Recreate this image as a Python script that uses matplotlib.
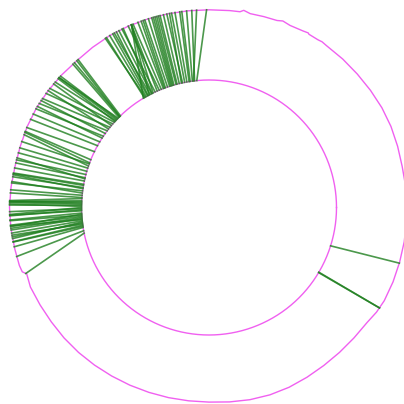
import numpy as np
import matplotlib
matplotlib.use("Agg")
import matplotlib.pyplot as plt

# inner ring radius (pixels) and outer wobbly profile, angles in degrees
inner_radius = 127.5
outer_angles = [0, 6, 12, 18, 24, 30, 36, 42, 48, 54, 55.7, 57, 60, 60.4, 62, 66, 68.4, 70, 74, 78,
                80, 81, 84, 90, 96, 102, 108, 114, 120, 126, 132, 138, 144, 150, 156, 162, 168,
                174, 180, 186, 192, 197, 199, 200, 204, 210, 216, 222, 228, 234, 240, 246, 252,
                258, 264, 270, 276, 282, 288, 294, 300, 306, 312, 318, 324, 328, 332, 338, 344,
                350, 356, 360]
outer_radii = [198.0, 197.8, 197.5, 198.3, 199.2, 199.6, 199.5, 199.5, 199.8, 200.0, 200.6, 200.0,
               200.0, 200.8, 200.0, 199.3, 200.6, 199.0, 198.6, 198.2, 200.2, 198.2, 198.0, 197.7,
               197.8, 198.0, 198.2, 198.5, 198.5, 198.0, 197.5, 198.2, 198.8, 199.2, 199.0, 198.4,
               198.3, 199.0, 199.5, 199.2, 198.6, 198.3, 197.5, 194.0, 195.5, 195.0, 194.8, 195.0,
               195.0, 194.8, 194.6, 194.5, 194.4, 194.4, 194.4, 194.6, 195.5, 196.5, 197.0, 196.8,
               196.0, 195.3, 195.0, 195.0, 195.5, 197.5, 198.5, 198.5, 198.3, 198.2, 198.0, 198.0]

# green segments: angle where they leave the inner ring / reach the outer ring
seg_inner = [120.5, 119.5, 118.5, 116.5, 121.0, 118.0, 116.0, 114.0, 112.0, 110.0, 109.0, 108.0, 107.0,
             106.0, 104.5, 103.5, 102.0, 101.0, 100.0, 98.5, 97.0, 95.5,
             120.0, 118.8, 117.5, 116.8, 115.0, 111.0, 110.5, 107.5, 106.5, 105.0, 102.5, 99.0, 97.5,
             96.5, 113.0,
             134.0, 134.5, 135.0, 135.5, 136.5, 137.0, 138.0, 139.0, 141.0, 143.0, 146.0, 149.0, 151.0,
             154.0, 142.0, 140.0, 134.5, 136.0, 137.5, 144.5, 147.0,
             158.0, 160.0, 162.0, 163.5, 165.0, 166.5, 168.0, 169.5, 171.0, 172.5, 174.5, 175.5, 177.5,
             178.0, 179.0, 180.5, 181.5, 182.5, 184.0, 185.0, 186.0, 187.0, 188.0, 189.0, 190.5, 191.6,
             159.5, 161.0, 170.0, 171.5, 176.0, 178.5, 180.0, 181.0, 183.0, 184.5, 186.5, 188.5,
             167.0, 173.5, 177.0, 179.5, 183.5, 185.5, 187.5,
             342.5, 329.3, 329.5]
seg_outer = [121.1, 120.0, 117.8, 115.6, 113.0, 113.0, 113.0, 113.0, 112.5, 109.4, 108.9, 107.8, 106.3,
             105.3, 104.3, 103.3, 102.3, 100.9, 99.9, 97.9, 93.6, 90.7,
             121.5, 119.0, 118.5, 117.0, 116.0, 111.0, 110.0, 106.8, 105.8, 104.8, 101.5, 98.5, 96.5,
             95.0, 114.0,
             131.5, 132.9, 133.5, 139.1, 139.1, 140.8, 143.2, 145.0, 146.8, 148.5, 150.3, 152.0, 153.7,
             156.3, 144.0, 141.5, 132.0, 138.5, 139.5, 147.5, 149.5,
             157.5, 160.6, 162.5, 164.0, 166.1, 167.0, 168.5, 170.0, 171.1, 172.9, 174.9, 175.8, 178.3,
             178.3, 179.3, 181.2, 182.2, 183.6, 185.1, 186.5, 187.4, 188.5, 189.9, 191.4, 194.3, 199.8,
             157.8, 158.5, 170.2, 170.5, 178.0, 178.6, 182.0, 182.4, 185.5, 186.0, 189.0, 190.0,
             165.5, 172.5, 178.2, 179.0, 183.8, 185.3, 188.0,
             343.7, 329.5, 329.5]

ring_color = "#f060f0"
seg_color = "#1f7f1f"

fig = plt.figure(figsize=(4.04, 4.04), dpi=100)
ax = fig.add_axes([0, 0, 1, 1])

t_ring = np.deg2rad(np.linspace(0, 360, 721))
ax.plot(inner_radius * np.cos(t_ring), inner_radius * np.sin(t_ring), color=ring_color, lw=1.0)

t_out = np.deg2rad(outer_angles)
ax.plot(np.array(outer_radii) * np.cos(t_out), np.array(outer_radii) * np.sin(t_out),
        color=ring_color, lw=1.0)

for a_in, a_out in zip(seg_inner, seg_outer):
    r_out = np.interp(a_out % 360, outer_angles, outer_radii)
    ti, to = np.deg2rad(a_in), np.deg2rad(a_out)
    ax.plot([inner_radius * np.cos(ti), r_out * np.cos(to)],
            [inner_radius * np.sin(ti), r_out * np.sin(to)],
            color=seg_color, lw=1.2, alpha=0.8)

ax.set_xlim(-209, 195)
ax.set_ylim(-196.5, 207.5)
ax.axis("off")

fig.savefig("out.png", dpi=100)
